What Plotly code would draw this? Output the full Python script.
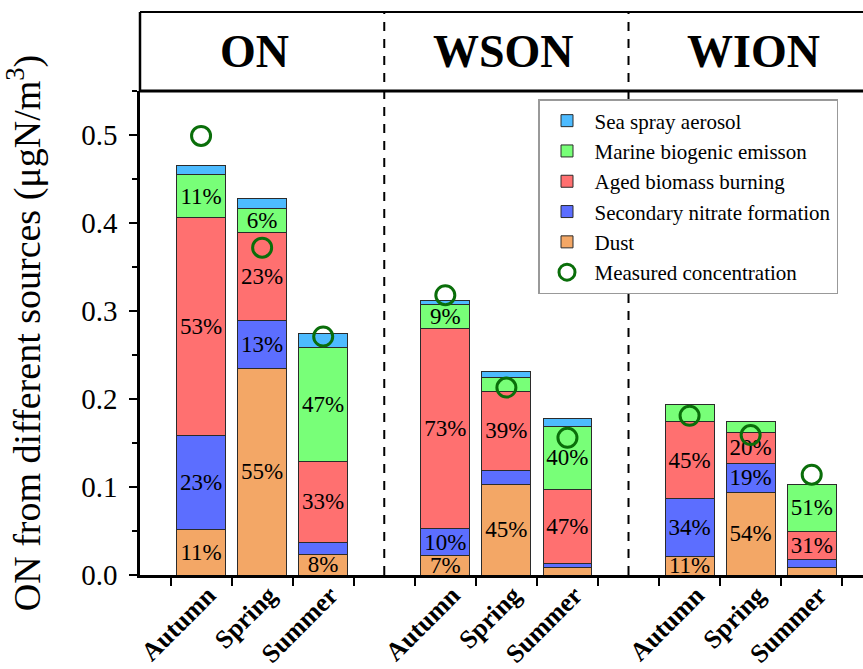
import plotly.graph_objects as go

# ---------------------------------------------------------------- data
groups = ["ON", "WSON", "WION"]
seasons = ["Autumn", "Spring", "Summer"]

# Source contributions (µgN/m3), order: ON-Autumn, ON-Spring, ON-Summer,
# WSON-Autumn, ..., WION-Summer
dust      = [0.052, 0.235, 0.023, 0.022, 0.103, 0.009, 0.021, 0.094, 0.009]
secondary = [0.106, 0.054, 0.014, 0.031, 0.016, 0.004, 0.066, 0.033, 0.009]
aged_bb   = [0.248, 0.100, 0.092, 0.227, 0.090, 0.084, 0.087, 0.035, 0.032]
marine    = [0.049, 0.027, 0.130, 0.027, 0.015, 0.072, 0.020, 0.012, 0.053]
sea_spray = [0.010, 0.012, 0.016, 0.005, 0.007, 0.009, 0.000, 0.000, 0.000]
measured  = [0.499, 0.372, 0.271, 0.318, 0.213, 0.156, 0.181, 0.159, 0.114]

# ---------------------------------------------------------------- layout constants
FONT = "Liberation Serif, Times New Roman, serif"
W, H = 863, 669
M_L, M_R, M_T, M_B = 140, 0, 12, 94
HEADER_PX = 79
PLOT_H = H - M_T - M_B
HDR_BOTTOM = (PLOT_H - HEADER_PX) / PLOT_H      # top of the data panel (paper)
LABEL_MIN = 0.0205                               # smallest segment that gets a % label
header_x = [0.88, 4.96, 9.05]
separators = [3, 7]

# bar positions: three seasons per group, one empty slot between groups
xpos = [g * 4 + s for g in range(len(groups)) for s in range(len(seasons))]
totals = [sum(v) for v in zip(dust, secondary, aged_bb, marine, sea_spray)]


def pct_labels(values):
    return [f"{round(100 * v / t)}%" if v >= LABEL_MIN else ""
            for v, t in zip(values, totals)]


sources = [
    # name, values, colour, legend rank
    ("Dust", dust, "#F3A766", 5),
    ("Secondary nitrate formation", secondary, "#5C6EFF", 4),
    ("Aged biomass burning", aged_bb, "#FF7070", 3),
    ("Marine biogenic emisson", marine, "#78FF78", 2),
    ("Sea spray aerosol", sea_spray, "#4DBBFF", 1),
]

fig = go.Figure()
for name, vals, colour, rank in sources:
    fig.add_trace(go.Bar(
        x=xpos, y=vals, name=name, width=0.8,
        marker=dict(color=colour, line=dict(color="#2b2b2b", width=1)),
        text=pct_labels(vals), textposition="inside",
        insidetextanchor="middle", textangle=0,
        textfont=dict(family=FONT, size=23, color="black"),
        legendrank=rank, hoverinfo="skip",
    ))

fig.add_trace(go.Scatter(
    x=xpos, y=measured, mode="markers", name="Measured concentration",
    marker=dict(symbol="circle-open", size=19, color="#0a6e0a",
                line=dict(width=3, color="#0a6e0a")),
    legendrank=6, cliponaxis=False,
))

# ---------------------------------------------------------------- axes
fig.update_xaxes(
    range=[-1, 10.84], domain=[0, 1],
    tickmode="array", tickvals=xpos, ticktext=seasons * len(groups),
    tickangle=-45, ticks="",
    ticklabelstandoff=-8, ticklabelshift=7,
    tickfont=dict(family=FONT, size=26, color="black", weight="bold"),
    showline=True, linecolor="black", linewidth=2.5,
    showgrid=False, zeroline=False,
    minor=dict(tick0=0.5, dtick=1, ticks="outside", ticklen=8,
               tickwidth=2, tickcolor="black", showgrid=False),
)
fig.update_yaxes(
    range=[0, 0.55], domain=[0, HDR_BOTTOM],
    dtick=0.1, tick0=0, tickformat=".1f",
    ticks="outside", ticklen=8, tickwidth=2, tickcolor="black",
    ticklabelstandoff=6,
    tickfont=dict(family=FONT, size=29, color="black"),
    minor=dict(dtick=0.05, ticks="outside", ticklen=5, tickwidth=2,
               tickcolor="black", showgrid=False),
    showline=True, linecolor="black", linewidth=2.5,
    showgrid=False, zeroline=False,
    title=dict(text="ON from different sources (μgN/m<sup>3</sup>)",
               font=dict(family=FONT, size=38, color="black"), standoff=30),
)

# ---------------------------------------------------------------- header band and separators
shapes = [
    dict(type="line", xref="paper", yref="paper", x0=0, x1=1.05, y0=1, y1=1,
         line=dict(color="black", width=2)),
    dict(type="line", xref="paper", yref="paper", x0=0, x1=1.05,
         y0=HDR_BOTTOM, y1=HDR_BOTTOM, line=dict(color="black", width=3)),
    dict(type="line", xref="paper", yref="paper", x0=0, x1=0,
         y0=HDR_BOTTOM, y1=1, line=dict(color="black", width=2.5)),
]
for xs in separators:
    shapes.append(dict(type="line", xref="x", yref="paper", x0=xs, x1=xs,
                       y0=0, y1=1, line=dict(color="black", width=2, dash="9px,8px")))

annotations = [
    dict(text=g, x=hx, xref="x", y=(HDR_BOTTOM + 1) / 2, yref="paper",
         showarrow=False, xanchor="center", yanchor="middle",
         font=dict(family=FONT, size=46, color="black", weight="bold"))
    for g, hx in zip(groups, header_x)
]

fig.update_layout(
    width=W, height=H, barmode="stack",
    margin=dict(l=M_L, r=M_R, t=M_T, b=M_B, autoexpand=False),
    paper_bgcolor="white", plot_bgcolor="white",
    font=dict(family=FONT, color="black"),
    shapes=shapes, annotations=annotations,
    showlegend=True,
    legend=dict(
        x=(538 - M_L) / (W - M_L - M_R), xanchor="left",
        y=(H - M_B - 99) / PLOT_H, yanchor="top",
        traceorder="normal", bgcolor="white",
        bordercolor="#999999", borderwidth=1.5,
        font=dict(family=FONT, size=21, color="black"),
        itemwidth=45, tracegroupgap=0,
    ),
    uniformtext=dict(minsize=23, mode="show"),
)

fig.write_html("out.html")
